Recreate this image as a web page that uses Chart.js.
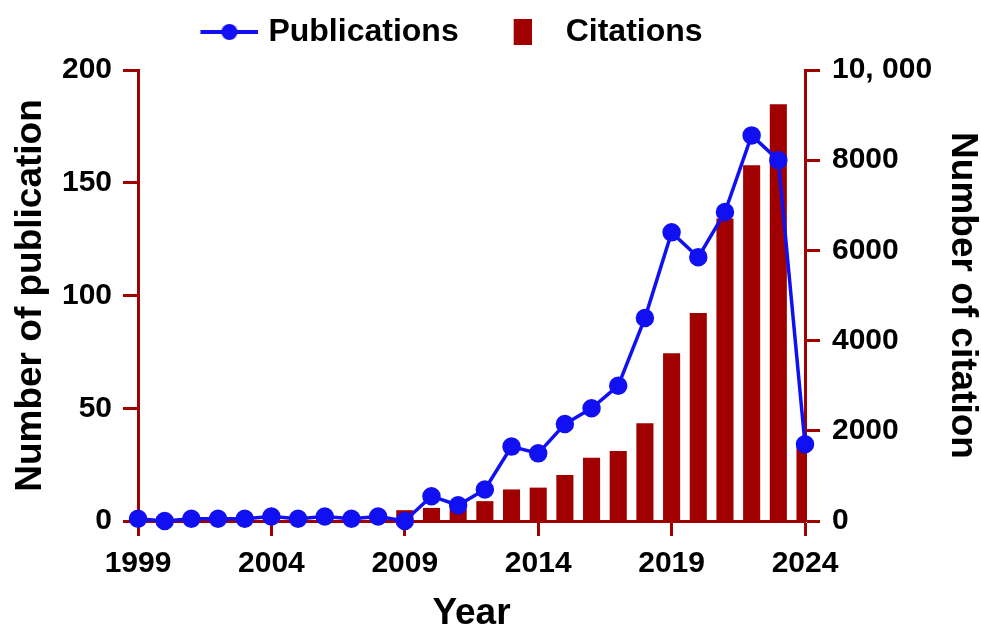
<!DOCTYPE html>
<html>
<head>
<meta charset="utf-8">
<script src="https://cdn.jsdelivr.net/npm/chart.js@4.4.1/dist/chart.umd.min.js"></script>
<style>
  html, body { margin: 0; padding: 0; background: #fff; }
  #wrap { width: 981px; height: 626px; }
</style>
</head>
<body>
<div id="wrap"><canvas id="chart"></canvas></div>
<script>
// values
const years = [1999, 2000, 2001, 2002, 2003, 2004, 2005, 2006, 2007, 2008, 2009, 2010, 2011,
               2012, 2013, 2014, 2015, 2016, 2017, 2018, 2019, 2020, 2021, 2022, 2023, 2024];
const publications = [1, 0, 1, 1, 1, 2, 1, 2, 1, 2, 0, 11, 7, 14, 33, 30, 43, 50, 60, 90, 128, 117, 137, 171, 160, 34];
const citations = [120, 100, 110, 110, 100, 100, 100, 110, 120, 120, 240, 290, 260, 440, 700, 740,
                   1020, 1400, 1550, 2170, 3720, 4610, 6710, 7890, 9240, 1660];
const yearTicks = [1999, 2004, 2009, 2014, 2019, 2024];
const publicationTicks = [0, 50, 100, 150, 200];
const citationTicks = [0, 2000, 4000, 6000, 8000, 10000];
const citationTickLabels = ['0', '2000', '4000', '6000', '8000', '10, 000'];

const BLUE = '#1010F2';
const RED = '#A00000';
const FONT = "'Liberation Sans', Arial, sans-serif";

// legend markers (line with dot, and a bar block)
function lineMarker() {
    const c = document.createElement('canvas');
    c.width = 88; c.height = 20;
    const g = c.getContext('2d');
    g.strokeStyle = BLUE;
    g.lineWidth = 4;
    g.beginPath(); g.moveTo(30, 10); g.lineTo(88, 10); g.stroke();
    g.fillStyle = BLUE;
    g.beginPath(); g.arc(59, 10, 8, 0, Math.PI * 2); g.fill();
    return c;
}
function boxMarker() {
    const c = document.createElement('canvas');
    c.width = 40; c.height = 26;
    const g = c.getContext('2d');
    g.fillStyle = RED;
    g.fillRect(22, 0, 18, 26);
    return c;
}
const legendMarkers = [lineMarker(), boxMarker()];

// move the legend a bit left, like the original
const legendShift = {
    id: 'legendShift',
    afterLayout(chart) {
        if (chart.legend) {
            chart.legend.left -= 51;
            chart.legend.right -= 51;
        }
    }
};

const tickFont = { family: FONT, size: 30, weight: 'bold' };
const titleFont = { family: FONT, size: 37, weight: 'bold', lineHeight: 1 };
const axisGrid = { drawOnChartArea: false, drawTicks: true, offset: false, tickLength: 15, tickColor: RED, tickWidth: 3 };

new Chart(document.getElementById('chart'), {
    type: 'bar',
    data: {
        datasets: [
            {
                type: 'line',
                label: 'Publications',
                data: years.map((y, i) => ({ x: y, y: publications[i] })),
                xAxisID: 'x',
                yAxisID: 'y',
                borderColor: BLUE,
                backgroundColor: BLUE,
                borderWidth: 3.5,
                pointStyle: 'circle',
                pointRadius: 7.5,
                pointHoverRadius: 7.5,
                tension: 0,
                clip: false,
                order: 0
            },
            {
                type: 'bar',
                label: 'Citations',
                data: years.map((y, i) => ({ x: y, y: citations[i] })),
                xAxisID: 'x',
                yAxisID: 'y1',
                backgroundColor: RED,
                borderWidth: 0,
                barPercentage: 0.64,
                categoryPercentage: 1,
                order: 1
            }
        ]
    },
    options: {
        responsive: true,
        maintainAspectRatio: false,
        animation: false,
        layout: { padding: { top: 1, left: 0, right: 0, bottom: 0 } },
        plugins: {
            tooltip: { enabled: false },
            legend: {
                position: 'top',
                align: 'center',
                labels: {
                    usePointStyle: true,
                    pointStyleWidth: 76,
                    padding: 15,
                    color: '#000',
                    font: { family: FONT, size: 32, weight: 'bold' },
                    generateLabels(chart) {
                        return chart.data.datasets.map((ds, i) => ({
                            text: ds.label,
                            pointStyle: legendMarkers[i],
                            fillStyle: ds.backgroundColor,
                            strokeStyle: ds.backgroundColor,
                            lineWidth: 0,
                            hidden: false,
                            datasetIndex: i,
                            fontColor: '#000'
                        }));
                    }
                }
            }
        },
        scales: {
            x: {
                type: 'linear',
                position: 'bottom',
                min: 1999,
                max: 2024,
                offset: false,
                afterBuildTicks(scale) { scale.ticks = yearTicks.map(v => ({ value: v })); },
                afterFit(scale) { scale.height = 105; },
                ticks: {
                    font: tickFont,
                    color: '#000',
                    padding: 10,
                    maxRotation: 0,
                    autoSkip: false,
                    callback: v => String(v)
                },
                grid: axisGrid,
                border: { display: true, color: RED, width: 3 },
                title: { display: true, text: 'Year', color: '#000', font: titleFont, padding: { top: 0, bottom: -6 } }
            },
            gap: {
                type: 'linear',
                position: 'top',
                display: true,
                afterFit(scale) { scale.height = 12; },
                ticks: { display: false },
                grid: { display: false },
                border: { display: false }
            },
            y: {
                type: 'linear',
                position: 'left',
                min: 0,
                max: 200,
                afterBuildTicks(scale) { scale.ticks = publicationTicks.map(v => ({ value: v })); },
                afterFit(scale) { scale.width = 138; },
                ticks: { font: tickFont, color: '#000', padding: 11, callback: v => String(v) },
                grid: axisGrid,
                border: { display: true, color: RED, width: 3 },
                title: { display: true, text: 'Number of publication', color: '#000', font: titleFont, padding: { top: 12, bottom: 0 } }
            },
            y1: {
                type: 'linear',
                position: 'right',
                min: 0,
                max: 10000,
                afterBuildTicks(scale) { scale.ticks = citationTicks.map(v => ({ value: v })); },
                afterFit(scale) { scale.width = 176; },
                ticks: {
                    font: tickFont,
                    color: '#000',
                    padding: 12,
                    callback: v => citationTickLabels[citationTicks.indexOf(v)]
                },
                grid: axisGrid,
                border: { display: true, color: RED, width: 3 },
                title: { display: true, text: 'Number of citation', color: '#000', font: titleFont, padding: { top: 0, bottom: 0 } }
            }
        }
    },
    plugins: [legendShift]
});
</script>
</body>
</html>
